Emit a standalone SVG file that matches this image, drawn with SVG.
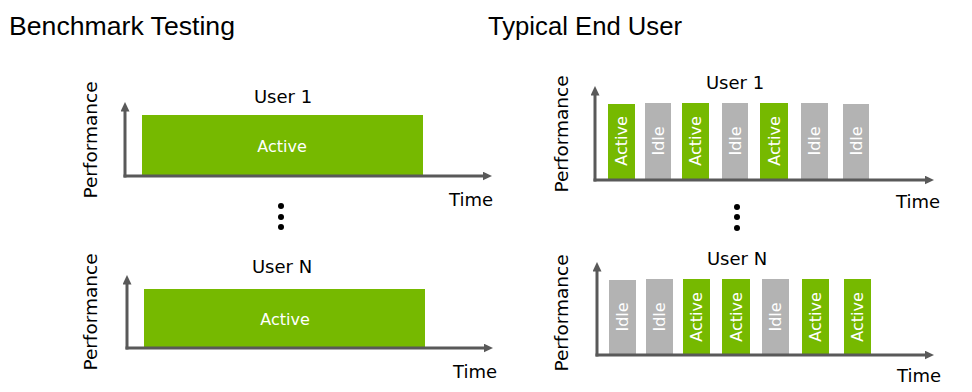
<svg xmlns="http://www.w3.org/2000/svg" width="972" height="392" viewBox="0 0 972 392">
<style>
.h{font-family:"Liberation Sans",Arial,sans-serif;font-size:26px;fill:#000}
.t{font-family:"DejaVu Sans",Verdana,sans-serif;font-size:18px;fill:#000}
.p{font-family:"DejaVu Sans",Verdana,sans-serif;font-size:18.5px;fill:#000}
.in{font-family:"DejaVu Sans",Verdana,sans-serif;font-size:16px;fill:#fff;text-anchor:middle}
.act{fill:#76B900}
.idl{fill:#B3B3B3}
.ax{stroke:#595959;stroke-width:3;fill:none;marker-end:url(#ah)}
.dot{fill:#000}
</style>
<defs>
<marker id="ah" markerUnits="userSpaceOnUse" markerWidth="10" markerHeight="10" refX="0.5" refY="4.5" orient="auto">
<path d="M0,0 L9.5,4.5 L0,9 z" fill="#595959"/>
</marker>
</defs>
<rect width="972" height="392" fill="#fff"/>
<text class="h" x="9" y="35" textLength="226" lengthAdjust="spacingAndGlyphs">Benchmark Testing</text>
<text class="h" x="488" y="35" textLength="194" lengthAdjust="spacingAndGlyphs">Typical End User</text>

<g id="bench-user1">
<text class="t" x="283" y="103" text-anchor="middle">User 1</text>
<rect class="act" x="142" y="115" width="281" height="61"/>
<text class="in" x="282" y="152">Active</text>
<text class="p" transform="translate(97,140) rotate(-90)" text-anchor="middle">Performance</text>
<text class="t" x="471" y="206" text-anchor="middle">Time</text>
</g>
<g id="bench-dots">
<circle class="dot" cx="281" cy="206" r="3"/>
<circle class="dot" cx="281" cy="217" r="3"/>
<circle class="dot" cx="281" cy="227" r="3"/>
</g>
<g id="bench-userN">
<text class="t" x="282" y="273" text-anchor="middle">User N</text>
<rect class="act" x="144" y="289" width="281" height="59"/>
<text class="in" x="285" y="325">Active</text>
<text class="p" transform="translate(97,312) rotate(-90)" text-anchor="middle">Performance</text>
<text class="t" x="475" y="378" text-anchor="middle">Time</text>
</g>

<g id="typical-user1">
<text class="t" x="735" y="89" text-anchor="middle">User 1</text>
<text class="p" transform="translate(568,134) rotate(-90)" text-anchor="middle">Performance</text>
<text class="t" x="918" y="208" text-anchor="middle">Time</text>
<g id="u1-b1"><rect class="act" x="608" y="104" width="27" height="75"/><text class="in" transform="translate(621.5,141) rotate(-90)" dy="0.36em">Active</text></g>
<g id="u1-b2"><rect class="idl" x="645" y="103" width="26" height="76"/><text class="in" transform="translate(658,141) rotate(-90)" dy="0.36em">Idle</text></g>
<g id="u1-b3"><rect class="act" x="682" y="103" width="27" height="76"/><text class="in" transform="translate(695.5,141) rotate(-90)" dy="0.36em">Active</text></g>
<g id="u1-b4"><rect class="idl" x="722" y="103" width="26" height="76"/><text class="in" transform="translate(735,141) rotate(-90)" dy="0.36em">Idle</text></g>
<g id="u1-b5"><rect class="act" x="760" y="103" width="28" height="76"/><text class="in" transform="translate(774,141) rotate(-90)" dy="0.36em">Active</text></g>
<g id="u1-b6"><rect class="idl" x="801" y="103" width="27" height="76"/><text class="in" transform="translate(814.5,141) rotate(-90)" dy="0.36em">Idle</text></g>
<g id="u1-b7"><rect class="idl" x="843" y="104" width="26" height="75"/><text class="in" transform="translate(856,141) rotate(-90)" dy="0.36em">Idle</text></g>
</g>
<g id="typical-dots">
<circle class="dot" cx="737" cy="207" r="3"/>
<circle class="dot" cx="737" cy="217" r="3"/>
<circle class="dot" cx="737" cy="228" r="3"/>
</g>
<g id="typical-userN">
<text class="t" x="737" y="265" text-anchor="middle">User N</text>
<text class="p" transform="translate(568,313) rotate(-90)" text-anchor="middle">Performance</text>
<text class="t" x="919" y="382" text-anchor="middle">Time</text>
<g id="uN-b1"><rect class="idl" x="609" y="280" width="27" height="75"/><text class="in" transform="translate(622.5,317) rotate(-90)" dy="0.36em">Idle</text></g>
<g id="uN-b2"><rect class="idl" x="646" y="279" width="27" height="76"/><text class="in" transform="translate(659.5,317) rotate(-90)" dy="0.36em">Idle</text></g>
<g id="uN-b3"><rect class="act" x="683" y="279" width="27" height="76"/><text class="in" transform="translate(696.5,317) rotate(-90)" dy="0.36em">Active</text></g>
<g id="uN-b4"><rect class="act" x="722" y="279" width="28" height="76"/><text class="in" transform="translate(736,317) rotate(-90)" dy="0.36em">Active</text></g>
<g id="uN-b5"><rect class="idl" x="762" y="279" width="27" height="76"/><text class="in" transform="translate(775.5,317) rotate(-90)" dy="0.36em">Idle</text></g>
<g id="uN-b6"><rect class="act" x="802" y="279" width="27" height="76"/><text class="in" transform="translate(815.5,317) rotate(-90)" dy="0.36em">Active</text></g>
<g id="uN-b7"><rect class="act" x="844" y="279" width="27" height="76"/><text class="in" transform="translate(857.5,317) rotate(-90)" dy="0.36em">Active</text></g>
</g>

<g id="connectors">
<path class="ax" d="M125,177.5 V111"/>
<path class="ax" d="M123.5,176 H483"/>
<path class="ax" d="M127,349.5 V284"/>
<path class="ax" d="M125.5,348 H484"/>
<path class="ax" d="M595,181.5 V95"/>
<path class="ax" d="M593.5,180 H925"/>
<path class="ax" d="M597,356.5 V271"/>
<path class="ax" d="M595.5,355 H925"/>
</g>
</svg>
